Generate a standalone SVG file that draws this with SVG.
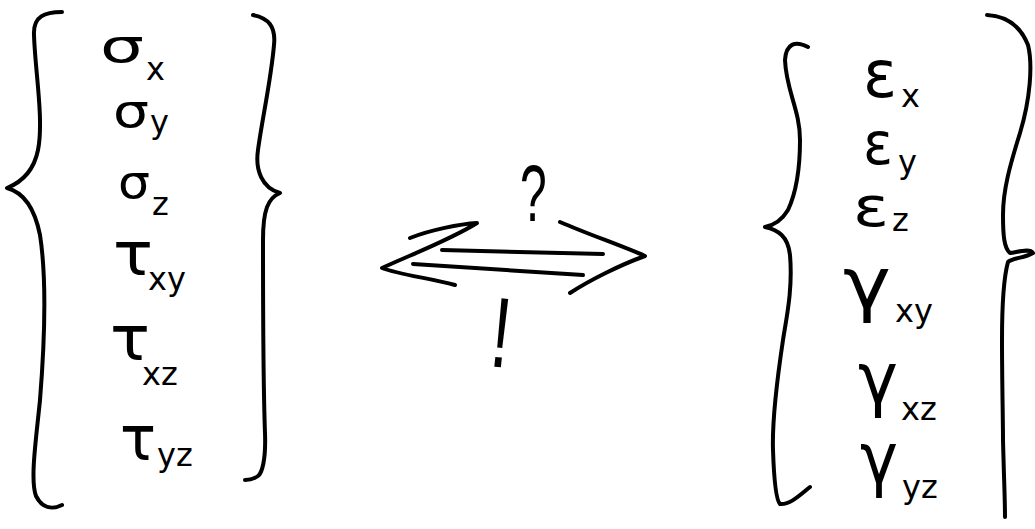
<svg xmlns="http://www.w3.org/2000/svg" width="1035" height="529" viewBox="0 0 1035 529">
<style>
.ink{fill:none;stroke:#000;stroke-width:4;stroke-linecap:round;stroke-linejoin:round}
.g{font-family:"DejaVu Sans",sans-serif;fill:#000}
.s{font-family:"DejaVu Sans",sans-serif;fill:#000;font-size:32px}
.p{font-family:"Liberation Sans",sans-serif;fill:#000}
</style>
<rect width="1035" height="529" fill="#fff"/>
<g id="stress-vector">
<path class="ink" d="M62,12 C45,12 33,16 34,35 C35,70 44,120 38,150 C34,170 22,182 7,188 C22,192 34,205 40,235 C47,280 44,350 40,400 C36,440 30,480 36,496 C42,508 52,510 62,505"/>
<path class="ink" d="M253,15 C268,18 276,26 274,45 C271,80 262,120 258,150 C255,170 262,188 280,193 C268,198 263,210 263,240 C263,300 263,380 265,433 C266,460 262,473 258,476 C254,479 250,480 245,480"/>
<text class="g" x="100" y="62" font-size="46" textLength="44" lengthAdjust="spacingAndGlyphs">σ</text><text class="s" x="146" y="80">x</text>
<text class="g" x="113" y="127" font-size="46" textLength="36" lengthAdjust="spacingAndGlyphs">σ</text><text class="s" x="150" y="133">y</text>
<text class="g" x="118" y="198" font-size="46" textLength="32" lengthAdjust="spacingAndGlyphs">σ</text><text class="s" x="152" y="215">z</text>
<text class="g" x="113" y="275" font-size="60" textLength="40" lengthAdjust="spacingAndGlyphs">τ</text><text class="s" x="148" y="290">xy</text>
<text class="g" x="110" y="360" font-size="62" textLength="40" lengthAdjust="spacingAndGlyphs">τ</text><text class="s" x="142" y="385">xz</text>
<text class="g" x="120" y="460" font-size="62" textLength="36" lengthAdjust="spacingAndGlyphs">τ</text><text class="s" x="157" y="466">yz</text>
</g>
<g id="strain-vector">
<path class="ink" d="M808,47 C795,40 786,44 785,60 C786,90 800,110 800,140 C800,170 795,195 788,210 C782,220 775,225 765,227 C778,230 788,236 790,255 C793,290 786,320 783,340 C777,380 772,420 773,450 C774,480 776,500 780,504 C790,505 800,495 810,487"/>
<path class="ink" d="M987,15 C1005,16 1020,25 1028,45 C1033,65 1030,100 1020,133 C1010,165 1003,190 1003,215 C1003,235 1004,248 1010,253 C1018,252 1030,248 1033,253 C1025,258 1012,258 1008,262 C1003,280 1002,310 1002,340 C1002,380 1003,420 1003,440 C1004,480 1005,500 1005,517"/>
<text class="g" x="863" y="97" font-size="66" textLength="34" lengthAdjust="spacingAndGlyphs">ε</text><text class="s" x="901" y="107">x</text>
<text class="g" x="863" y="164" font-size="58" textLength="30" lengthAdjust="spacingAndGlyphs">ε</text><text class="s" x="898" y="173">y</text>
<text class="g" x="853" y="226" font-size="56" textLength="36" lengthAdjust="spacingAndGlyphs">ε</text><text class="s" x="892" y="231" font-size="24px">z</text>
<text class="g" x="843" y="308" font-size="72" textLength="48" lengthAdjust="spacingAndGlyphs">γ</text><text class="s" x="895" y="322">xy</text>
<text class="g" x="858" y="403" font-size="72" textLength="40" lengthAdjust="spacingAndGlyphs">γ</text><text class="s" x="901" y="420">xz</text>
<text class="g" x="860" y="483" font-size="72" textLength="38" lengthAdjust="spacingAndGlyphs">γ</text><text class="s" x="902" y="498">yz</text>
</g>
<g id="connectors">
<path class="ink" d="M442,250 L603,254"/>
<path class="ink" d="M413,264 L583,275"/>
<path class="ink" d="M410,238 C430,230 460,224 477,223 C450,240 410,255 382,268 C400,275 430,278 455,285"/>
<path class="ink" d="M560,222 C590,235 620,245 645,256 C620,265 590,280 570,293"/>
</g>
<g id="labels">
<text class="p" transform="translate(520,221) scale(0.6,1)" font-size="80">?</text>
<text class="p" transform="translate(488,366) rotate(6) scale(0.7,1)" font-size="100">!</text>
</g>
</svg>
